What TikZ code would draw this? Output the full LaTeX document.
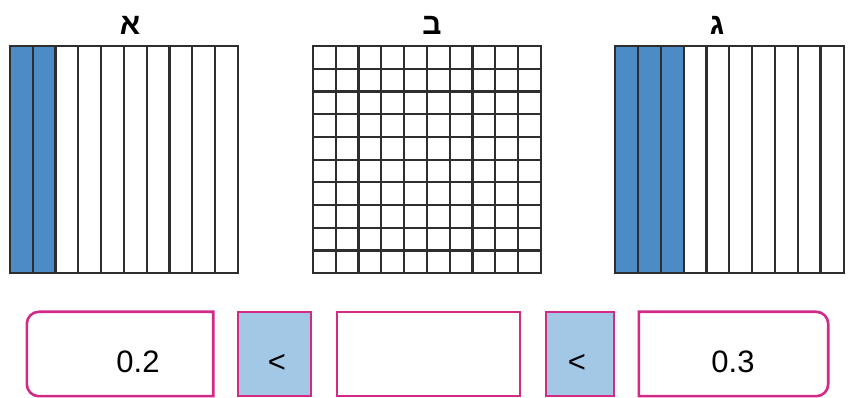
\documentclass[tikz,border=0pt]{standalone}
\usepackage{fontspec}
\setmainfont{Liberation Sans}
\newfontfamily\hebfont[Script=Hebrew]{Liberation Sans}
\TeXXeTstate=1
\usetikzlibrary{
    positioning,
    calc
}
\definecolor{barblue}{HTML}{4D8BC6}
\definecolor{signblue}{HTML}{A2C8E6}
\definecolor{framepink}{HTML}{D12B87}
\definecolor{linegray}{HTML}{2E2E2E}
\tikzset{
    % Grids
    gridframe/.style={
        rectangle,
        minimum width=228pt,
        minimum height=227pt,
        inner sep=0pt
    },
    gridline/.style={
        draw=linegray,
        line width=2.2pt
    },
    % Titles
    gridtitle/.style={
        font=\hebfont\bfseries\fontsize{30}{30}\selectfont,
        inner sep=0pt,
        anchor=base
    },
    % Answer boxes
    answerbox/.style={
        rectangle,
        minimum height=84pt,
        inner sep=0pt
    },
    signbox/.style={
        answerbox,
        draw=framepink,
        line width=2.6pt,
        fill=signblue
    },
    blankbox/.style={
        answerbox,
        draw=framepink,
        line width=2.6pt
    },
    answerline/.style={
        draw=framepink,
        line width=2.6pt
    },
    valuetext/.style={
        font=\fontsize{31}{31}\selectfont,
        inner sep=0pt
    }
}

\begin{document}
\begin{tikzpicture}[x=1pt, y=1pt]

    \useasboundingbox (0,0) rectangle (849,398);

    % Grid A: two tenths
    \node[gridframe] (gridA) at (124,238.5) {};
    \fill[barblue] (gridA.south west) rectangle ++(45.6,227);
    \foreach \i in {1,...,9}
        \draw[gridline] ($(gridA.south west)+(\i*22.8,0)$) -- ++(0,227);
    \draw[gridline] (gridA.south west) rectangle (gridA.north east);
    \node[gridtitle] (titleA) at (130,363) {\beginR א\endR};

    % Grid B: hundredths
    \node[gridframe] (gridB) at (427,238.5) {};
    \foreach \i in {1,...,9} {
        \draw[gridline] ($(gridB.south west)+(\i*22.8,0)$) -- ++(0,227);
        \draw[gridline] ($(gridB.south west)+(0,\i*22.7)$) -- ++(228,0);
    }
    \draw[gridline] (gridB.south west) rectangle (gridB.north east);
    \node[gridtitle] (titleB) at (432,363) {\beginR ב\endR};

    % Grid C: three tenths
    \node[gridframe] (gridC) at (729.5,238.5) {};
    \fill[barblue] (gridC.south west) rectangle ++(68.4,227);
    \foreach \i in {1,...,9}
        \draw[gridline] ($(gridC.south west)+(\i*22.8,0)$) -- ++(0,227);
    \draw[gridline] (gridC.south west) rectangle (gridC.north east);
    \node[gridtitle] (titleC) at (717,363) {\beginR ג\endR};

    % Answer row
    \node[answerbox, minimum width=186pt] (boxA) at (120,44) {};
    \draw[answerline] ([xshift=12pt]boxA.south west) -- (boxA.south east)
        -- (boxA.north east) -- ([xshift=12pt]boxA.north west)
        arc[start angle=90, end angle=180, radius=12pt]
        -- ([yshift=12pt]boxA.south west)
        arc[start angle=180, end angle=270, radius=12pt] -- cycle;
    \node[valuetext] (valA) at (138,36) {0.2};

    \node[signbox, minimum width=73pt] (signA) at (274.5,44) {};
    \node[valuetext] (ltA) at (277,35) {<};

    \node[blankbox, minimum width=183pt] (boxB) at (428.5,44) {};

    \node[signbox, minimum width=68pt] (signB) at (580,44) {};
    \node[valuetext] (ltB) at (577,35) {<};

    \node[answerbox, minimum width=189pt] (boxC) at (733.5,44) {};
    \draw[answerline] ([xshift=-12pt]boxC.south east) -- (boxC.south west)
        -- (boxC.north west) -- ([xshift=-12pt]boxC.north east)
        arc[start angle=90, end angle=0, radius=12pt]
        -- ([yshift=12pt]boxC.south east)
        arc[start angle=0, end angle=-90, radius=12pt] -- cycle;
    \node[valuetext] (valC) at (733,36) {0.3};

\end{tikzpicture}
\end{document}
